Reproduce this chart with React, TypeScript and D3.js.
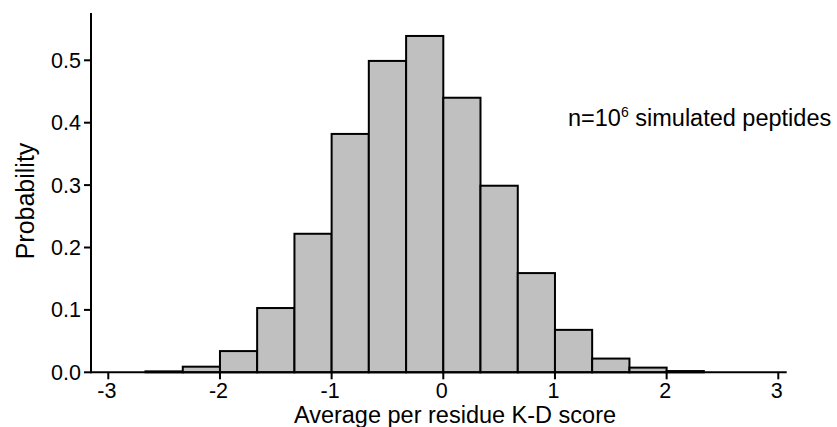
import * as d3 from "d3";
import React from "react";

// histogram bins (lower / upper edge) and probabilities
const binLow = [-2.667, -2.333, -2, -1.667, -1.333, -1, -0.667, -0.333, 0, 0.333, 0.667, 1, 1.333, 1.667, 2];
const binHigh = [-2.333, -2, -1.667, -1.333, -1, -0.667, -0.333, 0, 0.333, 0.667, 1, 1.333, 1.667, 2, 2.333];
const probability = [0.0015, 0.009, 0.034, 0.103, 0.222, 0.382, 0.499, 0.539, 0.44, 0.299, 0.159, 0.068, 0.022, 0.0075, 0.002];

const xTickValues = [-3, -2, -1, 0, 1, 2, 3];
const yTickValues = [0, 0.1, 0.2, 0.3, 0.4, 0.5];

export default function App() {
  const width = 837;
  const height = 427;
  const font = "'Liberation Sans', Arial, Helvetica, sans-serif";

  const Xscale = d3.scaleLinear().domain([-3, 3]).range([108.3, 778.3]);
  const Yscale = d3.scaleLinear().domain([0, 0.5]).range([372.3, 60.3]);

  const axisLeft = 91;
  const axisRight = 786.7;
  const axisTop = 13;
  const y0 = Yscale(0);

  const bars = probability.map((p, i) => ({
    x: Xscale(binLow[i]),
    w: Xscale(binHigh[i]) - Xscale(binLow[i]),
    y: Yscale(p),
    h: y0 - Yscale(p),
  }));

  return (
    <svg
      width={width}
      height={height}
      style={{ position: "absolute", left: 0, top: 0, background: "#fff" }}
      fontFamily={font}
    >
      <g>
        {bars.map((b, i) => (
          <rect
            key={i}
            x={b.x}
            y={b.y}
            width={b.w}
            height={b.h}
            fill="#c0c0c0"
            stroke="#000"
            strokeWidth="2"
          />
        ))}
      </g>
      <g stroke="#000" strokeWidth="2">
        <line x1={axisLeft} y1={axisTop} x2={axisLeft} y2={y0 + 1} />
        <line x1={axisLeft} y1={y0} x2={axisRight} y2={y0} />
        {yTickValues.map((t) => (
          <line key={t} x1={axisLeft - 7} y1={Yscale(t)} x2={axisLeft} y2={Yscale(t)} />
        ))}
        {xTickValues.map((t) => (
          <line key={t} x1={Xscale(t)} y1={y0} x2={Xscale(t)} y2={y0 + 7} />
        ))}
      </g>
      <g fontSize="21.5" fill="#000">
        {yTickValues.map((t) => (
          <text key={t} x={axisLeft - 10} y={Yscale(t)} dy="0.35em" textAnchor="end">
            {d3.format(".1f")(t)}
          </text>
        ))}
        {xTickValues.map((t) => (
          <text key={t} x={Xscale(t) - 1.5} y={398.3} textAnchor="middle">
            {t < 0 ? "-" + Math.abs(t) : t}
          </text>
        ))}
      </g>
      <text x={455} y={423.3} fontSize="23.5" textAnchor="middle">
        Average per residue K-D score
      </text>
      <text
        transform={`translate(33.5, 201) rotate(-90)`}
        fontSize="25"
        textAnchor="middle"
      >
        Probability
      </text>
      <text x={568} y={126} fontSize="23.5">
        n=10
        <tspan fontSize="14" dy="-9">6</tspan>
        <tspan dy="9"> simulated peptides</tspan>
      </text>
    </svg>
  );
}
